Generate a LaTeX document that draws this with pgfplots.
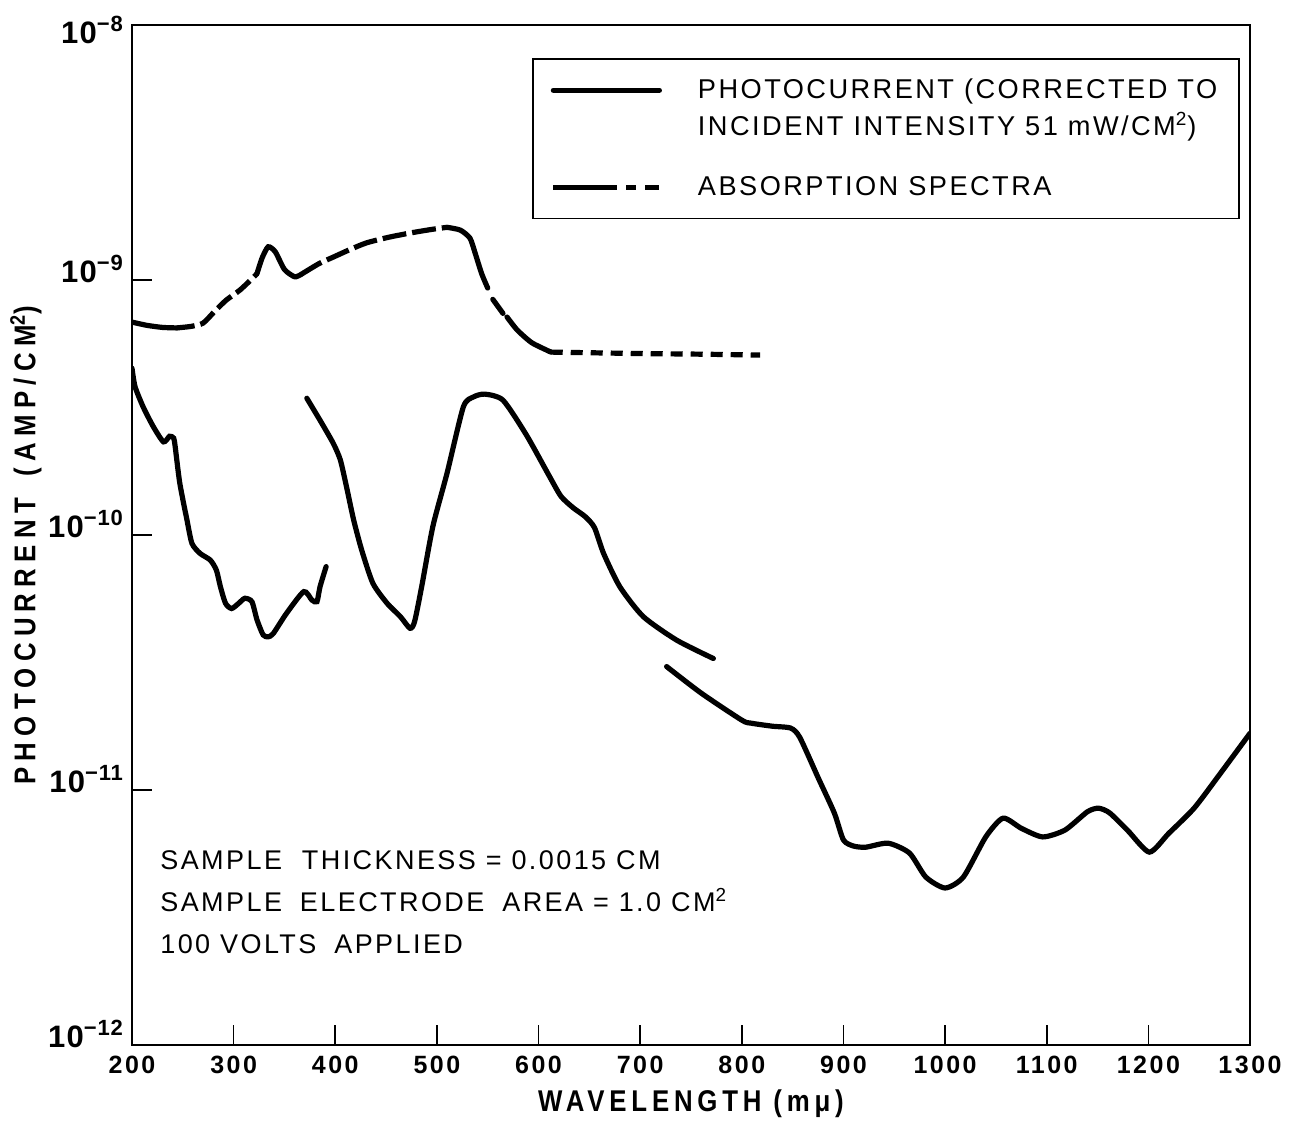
\documentclass[border=0pt]{standalone}
\usepackage{fontspec}
\setmainfont{Liberation Sans}[LetterSpace=9]
\newfontfamily\annfont{Liberation Sans}[LetterSpace=9]
\newfontfamily\labfont{Liberation Sans}[FakeStretch=0.86, LetterSpace=16]
\newfontfamily\ylabfont{Liberation Sans}[FakeStretch=0.86, LetterSpace=21]
\newfontfamily\tickfont{Liberation Sans}[LetterSpace=10]
\newfontfamily\ytickfont{Liberation Sans}[LetterSpace=4]
\usepackage{pgfplots}
\pgfplotsset{compat=1.18}
\pgfplotsset{
  pclegend/.style={legend image code/.code={\draw[##1, smooth=false] (0pt,9.25pt) -- (53pt,9.25pt);}},
  ablegend/.style={legend image code/.code={\draw[##1, smooth=false, dash pattern=on 32pt off 4.5pt on 5pt off 4.5pt on 7pt off 60pt] (0pt,0pt) -- (53pt,0pt);}},
}
\newcommand{\ylab}[1]{10\raisebox{6pt}{\fontsize{11}{11}\selectfont −#1}}

\begin{document}
\begin{tikzpicture}
\begin{axis}[
  scale only axis, width=559pt, height=510pt,
  xmin=200, xmax=1300, ymode=log, ymin=1e-12, ymax=1e-8,
  axis line style={line width=0.8pt},
  tick align=inside, xtick pos=bottom, ytick pos=left,
  major tick length=10pt, tick style={line width=0.8pt, black},
  xtick={200,300,...,1300},
  ytick={1e-12,1e-11,1e-10,1e-9,1e-8},
  yticklabels={\ylab{12},\ylab{11},\ylab{10},\ylab{9},\raisebox{-8pt}{\ylab{8}}},
  yminorticks=false,
  xticklabel style={font=\tickfont\bfseries\fontsize{12.5}{14}\selectfont, yshift=-2pt},
  yticklabel style={font=\ytickfont\bfseries\fontsize{15.5}{17}\selectfont, anchor=base east, yshift=-1pt, xshift=-1pt},
  /pgf/number format/assume math mode=true,
  /pgf/number format/set thousands separator={},
  xlabel={WAVELENGTH (mμ)},
  ylabel={PHOTOCURRENT\hspace{4pt} (AMP/CM\textsuperscript{2})},
  xlabel style={font=\labfont\bfseries\fontsize{15}{18}\selectfont, yshift=-1pt},
  ylabel style={font=\ylabfont\bfseries\fontsize{15}{18}\selectfont,
    at={(axis description cs:-0.0805,0.49)}, anchor=south, inner sep=0pt},
  legend style={at={(1,1)}, anchor=north east, xshift=-5pt, yshift=-16.5pt,
    draw=black, line width=0.8pt, font=\fontsize{13.6}{18.5}\selectfont,
    cells={anchor=west, align=left}, inner xsep=9pt, inner ysep=8pt, row sep=15pt, column sep=16pt},
  legend cell align=left,
  every axis plot/.append style={line width=2.6pt, black, smooth, tension=0.4, line cap=round},
]
% photocurrent
\addplot[pclegend] coordinates {
  (200,4.51e-10) (203,3.82e-10) (211,3.18e-10) (221,2.66e-10) (231,2.32e-10) (237,2.44e-10)
  (241,2.40e-10) (242.5,2.22e-10) (247,1.60e-10) (254,1.15e-10) (259,9.27e-11) (267,8.47e-11)
  (277,7.98e-11) (283,7.29e-11) (287,6.27e-11) (292,5.40e-11) (298,5.15e-11) (305,5.40e-11)
  (311,5.65e-11) (318,5.48e-11) (323,4.65e-11) (329,4.06e-11) (334,3.99e-11) (339,4.11e-11)
  (352,4.93e-11) (369,6.00e-11) (377,5.56e-11) (382,5.48e-11) (385,6.27e-11) (391,7.52e-11)};
\addlegendentry{PHOTOCURRENT (CORRECTED TO\\INCIDENT INTENSITY 51 mW/CM\textsuperscript{2})}
\addplot[forget plot] coordinates {
  (372,3.44e-10) (385,2.82e-10) (398,2.29e-10) (405,1.97e-10) (411,1.55e-10) (418,1.15e-10)
  (426,8.73e-11) (437,6.47e-11) (451,5.40e-11) (464,4.79e-11) (473.5,4.31e-11) (478,4.57e-11)
  (485,6.27e-11) (496,1.08e-10) (510,1.75e-10) (526,3.18e-10) (536,3.48e-10) (547,3.57e-10)
  (565,3.38e-10) (588,2.47e-10) (610,1.72e-10) (622,1.42e-10) (634,1.28e-10) (646,1.18e-10)
  (655,1.07e-10) (664,8.47e-11) (680,6.27e-11) (703,4.79e-11) (736,3.87e-11) (772,3.28e-11)};
\addplot[forget plot] coordinates {
  (726,3.05e-11) (760,2.40e-11) (800,1.88e-11) (809,1.83e-11) (830,1.78e-11) (848,1.75e-11)
  (857,1.61e-11) (875,1.12e-11) (891,8.13e-12) (900,6.37e-12) (910,6.03e-12) (922,5.97e-12)
  (944,6.19e-12) (965,5.66e-12) (981,4.56e-12) (1000,4.13e-12) (1018,4.56e-12) (1040,6.55e-12)
  (1057,7.76e-12) (1075,7.08e-12) (1096,6.55e-12) (1118,6.97e-12) (1140,8.22e-12) (1151,8.49e-12)
  (1162,8.13e-12) (1180,6.92e-12) (1201,5.71e-12) (1220,6.76e-12) (1245,8.49e-12) (1270,1.15e-11)
  (1300,1.67e-11)};
% absorption spectra
\addplot[forget plot] coordinates {(200,6.84e-10) (215,6.64e-10) (230,6.52e-10) (244,6.49e-10)};
\addplot[forget plot, line cap=butt, dash pattern=on 9pt off 3pt] coordinates {
  (244,6.49e-10) (258,6.58e-10) (270,6.78e-10) (282,7.59e-10) (293,8.36e-10) (306,9.12e-10)
  (319,1.02e-9) (323,1.06e-9)};
\addplot[forget plot] coordinates {
  (323,1.06e-9) (328,1.22e-9) (334,1.35e-9) (341,1.29e-9) (350,1.10e-9) (360,1.03e-9) (366,1.05e-9)};
\addplot[forget plot, line cap=butt, dash pattern=on 12pt off 3pt] coordinates {
  (366,1.05e-9) (384,1.16e-9) (398,1.23e-9) (415,1.32e-9) (431,1.40e-9) (452,1.47e-9)
  (474,1.53e-9) (495,1.58e-9) (510,1.61e-9)};
\addplot[forget plot] coordinates {
  (510,1.61e-9) (523,1.57e-9) (532.5,1.46e-9) (537.5,1.28e-9) (544,1.06e-9) (550,9.3e-10)};
\addplot[forget plot] coordinates {(555,8.4e-10) (565,7.4e-10)};
\addplot[forget plot] coordinates {
  (569,7.16e-10) (579,6.37e-10) (593,5.69e-10) (608,5.31e-10) (612,5.22e-10)};
\addplot[ablegend, line cap=butt, dash pattern=on 6pt off 4pt]
  coordinates {(612,5.22e-10) (620,5.21e-10) (700,5.15e-10) (760,5.12e-10) (818,5.08e-10)};
\addlegendentry{ABSORPTION SPECTRA}
\node[anchor=north west, align=left, inner sep=0pt, font=\annfont\fontsize{13.5}{21}\selectfont]
  at (rel axis cs:0.025,0.191)
  {SAMPLE\hspace{5pt} THICKNESS = 0.0015 CM\\SAMPLE\hspace{4pt} ELECTRODE\hspace{4pt} AREA = 1.0 CM\textsuperscript{2}\\100 VOLTS\hspace{4pt} APPLIED};
\end{axis}
\pgfresetboundingbox
\useasboundingbox ([shift={(-66pt,-39pt)}]current axis.south west) rectangle ([shift={(22.5pt,12.5pt)}]current axis.north east);
\end{tikzpicture}
\end{document}
